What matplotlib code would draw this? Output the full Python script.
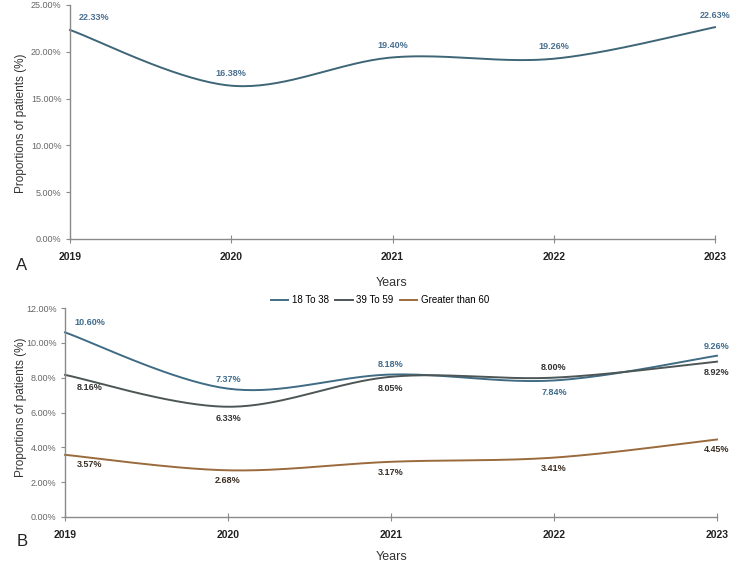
import numpy as np
import matplotlib
matplotlib.use("Agg")
import matplotlib.pyplot as plt
from matplotlib.lines import Line2D

years = [2019, 2020, 2021, 2022, 2023]
overall = [22.33, 16.38, 19.40, 19.26, 22.63]
age_18_38 = [10.60, 7.37, 8.18, 7.84, 9.26]
age_39_59 = [8.16, 6.33, 8.05, 8.00, 8.92]
age_60_plus = [3.57, 2.68, 3.17, 3.41, 4.45]
series_names = ["18 To 38", "39 To 59", "Greater than 60"]

W, H = 750, 566
fig = plt.figure(figsize=(7.5, 5.66), dpi=100)
plt.rcParams['font.family'] = ['Liberation Sans', 'DejaVu Sans']


def smooth(x, y, n=40):
    x = np.asarray(x, float); y = np.asarray(y, float)
    px = np.concatenate([[x[0]], x, [x[-1]]])
    py = np.concatenate([[y[0]], y, [y[-1]]])
    xs, ys = [], []
    t = np.linspace(0, 1, n)
    for i in range(1, len(px) - 2):
        p0 = np.array([px[i], py[i]]); p3 = np.array([px[i + 1], py[i + 1]])
        c1 = p0 + (np.array([px[i + 1], py[i + 1]]) - np.array([px[i - 1], py[i - 1]])) / 6
        c2 = p3 - (np.array([px[i + 2], py[i + 2]]) - np.array([px[i], py[i]])) / 6
        b = ((1 - t) ** 3)[:, None] * p0 + (3 * (1 - t) ** 2 * t)[:, None] * c1 + \
            (3 * (1 - t) * t ** 2)[:, None] * c2 + (t ** 3)[:, None] * p3
        xs.extend(b[:, 0]); ys.extend(b[:, 1])
    return np.array(xs), np.array(ys)


def px_axes(l, t, r, b):
    return fig.add_axes([l / W, 1 - b / H, (r - l) / W, (b - t) / H])


def style(ax, ymax, step):
    for s in ['top', 'right']:
        ax.spines[s].set_visible(False)
    for s in ['left', 'bottom']:
        ax.spines[s].set_color('#8a8a8a')
        ax.spines[s].set_linewidth(1.0)
    ax.set_xlim(2019, 2023)
    ax.set_ylim(0, ymax)
    yt = np.arange(0, ymax + 0.001, step)
    ax.set_yticks(yt)
    ax.set_yticklabels([f"{v:.2f}%" for v in yt], fontsize=6.5, color='#666666')
    ax.set_xticks(years)
    ax.set_xticklabels([str(y) for y in years], fontsize=7.5, fontweight='bold', color='#222222')
    ax.tick_params(axis='x', direction='inout', length=6, color='#8a8a8a', pad=6)
    ax.tick_params(axis='y', direction='out', length=3, color='#8a8a8a', pad=3)
    ax.patch.set_alpha(0)


label_kw = dict(fontsize=6.5, fontweight='bold', ha='center')

# Panel A
axA = px_axes(70, 5, 715, 239)
style(axA, 25, 5)
c_top = '#3e6677'
sx, sy = smooth(years, overall)
axA.plot(sx, sy, color=c_top, lw=1.4, clip_on=False)
for i, (x, v) in enumerate(zip(years, overall)):
    dx = 0.15 if i == 0 else 0
    axA.text(x + dx, v + 1.3, f"{v:.2f}%", color='#4a7090', va='center', **label_kw)
fig.text(21 / W, 1 - 123 / H, "Proportions of patients (%)", fontsize=8.5, color='#333333',
         rotation=90, ha='center', va='center')
fig.text(392 / W, 1 - 283 / H, "Years", fontsize=9, color='#333333', ha='center', va='center')
fig.text(22 / W, 1 - 266 / H, "A", fontsize=12, color='#222222', ha='center', va='center')

# Panel B
axB = px_axes(65, 308, 717, 517)
style(axB, 12, 2)
colors = ['#3f6c84', '#4d5656', '#9a6a3c']
lab_colors = ['#3f6c8c', '#333333', '#3a2f25']
data = [age_18_38, age_39_59, age_60_plus]
for d, c, n in zip(data, colors, series_names):
    sx, sy = smooth(years, d)
    axB.plot(sx, sy, color=c, lw=1.4, label=n, clip_on=False)

# label offsets: above (+) or below (-)
offsets = {
    0: [0.55, 0.55, 0.6, -0.7, 0.55],
    1: [-0.7, -0.65, -0.65, 0.6, -0.6],
    2: [-0.55, -0.6, -0.6, -0.6, -0.6],
}
for si, d in enumerate(data):
    for i, (x, v) in enumerate(zip(years, d)):
        dx = 0.15 if i == 0 else 0
        axB.text(x + dx, v + offsets[si][i], f"{v:.2f}%", color=lab_colors[si], va='center', **label_kw)
fig.text(21 / W, 1 - 407 / H, "Proportions of patients (%)", fontsize=8.5, color='#333333',
         rotation=90, ha='center', va='center')
fig.text(392 / W, 1 - 557 / H, "Years", fontsize=9, color='#333333', ha='center', va='center')
fig.text(22 / W, 1 - 541 / H, "B", fontsize=12, color='#222222', ha='center', va='center')

handles = [Line2D([0], [0], color=c, lw=1.4) for c in colors]
fig.legend(handles, series_names, loc='center', bbox_to_anchor=(380 / W, 1 - 300 / H), ncol=3,
           frameon=False, fontsize=7, handlelength=1.8, handletextpad=0.4, columnspacing=0.6)

fig.savefig("out.png", dpi=100)
